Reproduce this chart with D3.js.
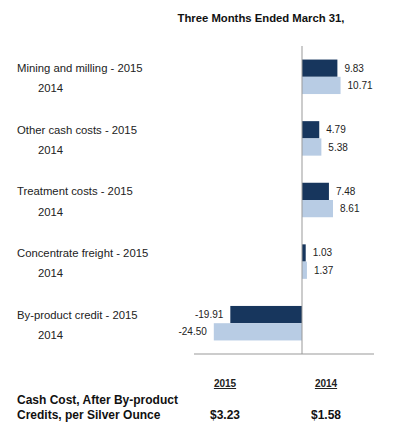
<!DOCTYPE html>
<html>
<head>
<meta charset="utf-8">
<script src="https://cdn.jsdelivr.net/npm/d3@7"></script>
<style>
  body { margin: 0; background: #fff; }
  svg text { font-family: "Liberation Sans", Arial, sans-serif; }
</style>
</head>
<body>
<div id="chart"></div>
<script>
// data
var categories = ['Mining and milling', 'Other cash costs', 'Treatment costs', 'Concentrate freight', 'By-product credit'];
var years = ['2015', '2014'];
var values2015 = [9.83, 4.79, 7.48, 1.03, -19.91];
var values2014 = [10.71, 5.38, 8.61, 1.37, -24.50];
var totalLabels = ['$3.23', '$1.58'];

var width = 394, height = 431;
var colors = { '2015': '#17365d', '2014': '#b8cce4' };

var svg = d3.select('#chart').append('svg')
  .attr('width', width)
  .attr('height', height);

var x = d3.scaleLinear().domain([-30, 20]).range([194, 374]);
var y = d3.scaleBand().domain(categories).range([46, 354])
  .paddingInner(0.44).paddingOuter(0.22);
var ySub = d3.scaleBand().domain(years).range([0, y.bandwidth()]);

var rows = [];
categories.forEach(function(c, i) {
  rows.push({ cat: c, year: '2015', v: values2015[i] });
  rows.push({ cat: c, year: '2014', v: values2014[i] });
});

// title
svg.append('text')
  .attr('x', 261).attr('y', 22)
  .attr('text-anchor', 'middle')
  .style('font-size', '11.3px').style('font-weight', 'bold')
  .attr('fill', '#111')
  .text('Three Months Ended March 31,');

// bars
svg.selectAll('rect.bar')
  .data(rows)
  .enter().append('rect')
  .attr('class', 'bar')
  .attr('x', function(d) { return x(Math.min(0, d.v)); })
  .attr('y', function(d) { return y(d.cat) + ySub(d.year); })
  .attr('width', function(d) { return Math.abs(x(d.v) - x(0)); })
  .attr('height', ySub.bandwidth())
  .attr('fill', function(d) { return colors[d.year]; });

// value labels
svg.selectAll('text.val')
  .data(rows)
  .enter().append('text')
  .attr('class', 'val')
  .attr('x', function(d) { return d.v >= 0 ? x(d.v) + 7 : x(d.v) - 7; })
  .attr('y', function(d) { return y(d.cat) + ySub(d.year) + ySub.bandwidth() / 2; })
  .attr('dy', '0.35em')
  .attr('text-anchor', function(d) { return d.v >= 0 ? 'start' : 'end'; })
  .style('font-size', '10px')
  .attr('fill', '#222')
  .text(function(d) { return d.v.toFixed(2); });

// category labels
svg.selectAll('text.cat')
  .data(rows)
  .enter().append('text')
  .attr('class', 'cat')
  .attr('x', function(d) { return d.year === '2015' ? 17 : 38; })
  .attr('y', function(d) { return y(d.cat) + ySub(d.year) + ySub.bandwidth() / 2 + (d.year === '2014' ? 3 : 0); })
  .attr('dy', '0.35em')
  .style('font-size', '11.3px')
  .attr('fill', '#222')
  .text(function(d) { return d.year === '2015' ? d.cat + ' - 2015' : '2014'; });

// axes lines
svg.append('line')
  .attr('x1', x(0)).attr('x2', x(0))
  .attr('y1', 46).attr('y2', 354)
  .attr('stroke', '#999').attr('stroke-width', 1);
svg.append('line')
  .attr('x1', x.range()[0]).attr('x2', x.range()[1])
  .attr('y1', 354).attr('y2', 354)
  .attr('stroke', '#999').attr('stroke-width', 1);

// summary table
var colX = d3.scalePoint().domain(years).range([225, 326]);

svg.selectAll('text.yr')
  .data(years)
  .enter().append('text')
  .attr('class', 'yr')
  .attr('x', function(d) { return colX(d); })
  .attr('y', 387)
  .attr('text-anchor', 'middle')
  .style('font-size', '10px').style('font-weight', 'bold')
  .style('text-decoration', 'underline')
  .attr('fill', '#222')
  .text(function(d) { return d; });

svg.selectAll('text.tot')
  .data(years)
  .enter().append('text')
  .attr('class', 'tot')
  .attr('x', function(d) { return colX(d); })
  .attr('y', 419)
  .attr('text-anchor', 'middle')
  .style('font-size', '12px').style('font-weight', 'bold')
  .attr('fill', '#111')
  .text(function(d, i) { return totalLabels[i]; });

svg.append('text')
  .attr('x', 17).attr('y', 404)
  .style('font-size', '12px').style('font-weight', 'bold')
  .attr('fill', '#111')
  .text('Cash Cost, After By-product');
svg.append('text')
  .attr('x', 17).attr('y', 419)
  .style('font-size', '12px').style('font-weight', 'bold')
  .attr('fill', '#111')
  .text('Credits, per Silver Ounce');
</script>
</body>
</html>
